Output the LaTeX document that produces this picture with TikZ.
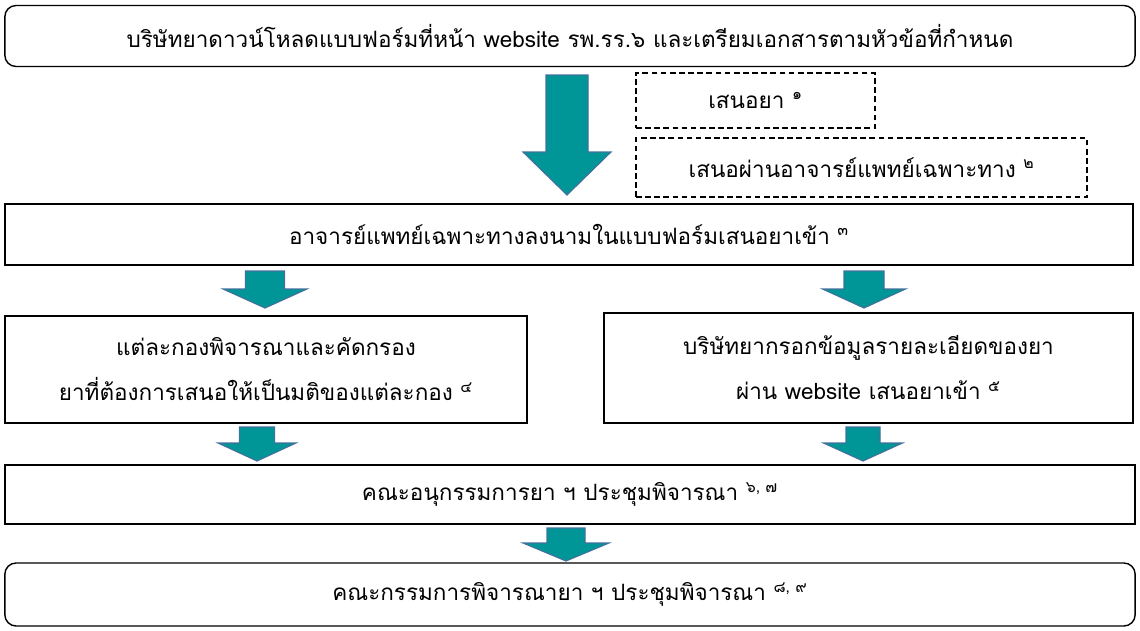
\documentclass[tikz,border=0pt]{standalone}
\usepackage{fontspec}
\newfontfamily\thaifont[Script=Thai]{Loma}
\begin{document}
\begin{tikzpicture}
    [x=0.025cm,y=-0.025cm,
     font=\thaifont\fontsize{16}{32}\selectfont,
     stepbox/.style={draw,line width=1pt,inner sep=0pt,align=center},
     roundbox/.style={stepbox,rounded corners=8pt},
     notebox/.style={stepbox,line width=1pt,dash pattern=on 4pt off 2.5pt},
     blockarrow/.style={fill={rgb,255:red,0;green,150;blue,152},
                        draw={rgb,255:red,65;green,113;blue,156},line width=0.8pt}]
    \useasboundingbox (0,0) rectangle (1140,631);
    % boxes
    \node[roundbox,minimum width=28.25cm,minimum height=1.525cm] (download) at (570,36)
      {บริษัทยาดาวน์โหลดแบบฟอร์มที่หน้า website รพ.รร.๖ และเตรียมเอกสารตามหัวข้อที่กำหนด};
    \node[notebox,minimum width=5.975cm,minimum height=1.375cm] (propose) at (755.5,100.5)
      {เสนอยา \textsuperscript{๑}};
    \node[notebox,minimum width=11.275cm,minimum height=1.475cm] (viadoctor) at (861.5,167.5)
      {เสนอผ่านอาจารย์แพทย์เฉพาะทาง \textsuperscript{๒}};
    \node[stepbox,minimum width=28.2cm,minimum height=1.525cm] (sign) at (569,234.5)
      {อาจารย์แพทย์เฉพาะทางลงนามในแบบฟอร์มเสนอยาเข้า \textsuperscript{๓}};
    \node[stepbox,minimum width=13.05cm,minimum height=2.675cm] (screen) at (266,369.5)
      {แต่ละกองพิจารณาและคัดกรอง\\ยาที่ต้องการเสนอให้เป็นมติของแต่ละกอง \textsuperscript{๔}};
    \node[stepbox,minimum width=13.225cm,minimum height=2.75cm] (fillin) at (868.5,368)
      {บริษัทยากรอกข้อมูลรายละเอียดของยา\\ผ่าน website เสนอยาเข้า \textsuperscript{๕}};
    \node[stepbox,minimum width=28.25cm,minimum height=1.475cm] (subcomm) at (570,494.5)
      {คณะอนุกรรมการยา ฯ ประชุมพิจารณา \textsuperscript{๖, ๗}};
    \node[roundbox,minimum width=28.25cm,minimum height=1.575cm] (comm) at (570,594.5)
      {คณะกรรมการพิจารณายา ฯ ประชุมพิจารณา \textsuperscript{๘, ๙}};
    % block arrows: centre/shaft/head/top/head start/tip
    \foreach \cx/\sw/\hw/\ya/\yb/\yc in {567/21/44/75/152/195,
        265/19.5/42/271/289/308, 864/20/41.5/271/289/308,
        257/17.5/39/427/443/461, 863/17/39.5/427/443/461,
        566/19/43/528/543/561}
      \draw[blockarrow] ({\cx-\sw},\ya) -- ({\cx+\sw},\ya) -- ({\cx+\sw},\yb)
        -- ({\cx+\hw},\yb) -- (\cx,\yc) -- ({\cx-\hw},\yb) -- ({\cx-\sw},\yb) -- cycle;
\end{tikzpicture}
\end{document}
